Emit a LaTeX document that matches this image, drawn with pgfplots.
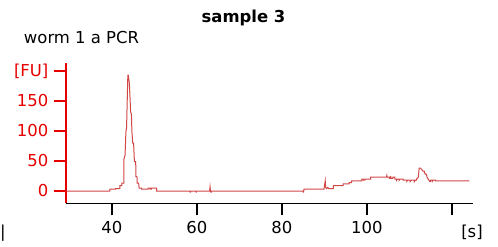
\documentclass[border=0pt]{standalone}
\usepackage{fontspec}
\setmainfont{DejaVu Sans}
\usepackage{pgfplots}
\pgfplotsset{compat=1.18}
\definecolor{axred}{RGB}{230,0,0}
\definecolor{trace}{RGB}{210,70,70}
\begin{document}
\fontsize{16.5}{19}\selectfont
\begin{tikzpicture}[x=1bp,y=1bp]
\useasboundingbox (0,0) rectangle (498,-246);
\begin{axis}[
  at={(66bp,-203.3bp)}, anchor=south west,
  scale only axis, width=406.7bp, height=140.3bp,
  xmin=29.2, xmax=124.9, ymin=-20.5, ymax=213.3,
  axis x line=bottom, axis y line=left, axis line style={-},
  x axis line style={black, line width=1.5bp},
  y axis line style={axred, line width=1.5bp},
  xtick={40,60,80,100,120}, xticklabels={40,60,80,100,{}},
  ytick={0,50,100,150,200}, yticklabels={0,50,100,150,{[FU]}},
  tick align=outside, major tick length=12bp,
  x tick style={black, line width=1.5bp},
  y tick style={axred, line width=1.5bp},
  yticklabel style={axred},
  tick label style={font=\fontsize{16.5}{19}\selectfont},
  /pgf/number format/assume math mode=true,
  clip=false,
]
\addplot[trace, line width=1bp] coordinates {
(29.3,0)(39.5,0)(39.5,3)(40.9,3)(40.9,4)(41.9,4)(41.9,9)(42.35,9)(42.35,13)(42.8,13)
(42.8,52)(43.1,60)(43.3,99)(43.45,105)(43.75,193)(43.85,193)(44.1,180)(44.3,150)
(44.4,132)(44.6,128)(44.7,100)(44.9,80)(45.1,80)(45.3,49)(45.6,49)(45.65,24)(45.9,24)
(45.96,13)(46.3,13)(46.4,5)(47.0,5)(47.0,3)(48.5,3)(48.5,5)(49.0,5)(49.0,3)(49.3,3)
(49.3,5)(50.5,5)(50.5,0)
(58.4,0)(58.4,-2)(58.5,-2)(58.5,0)(59.8,0)(59.8,-2)(59.9,-2)(59.9,0)(63.0,0)(63.1,7)
(63.2,0)(63.3,-2)(63.4,-2)(63.4,0)(85.0,0)(85.0,-2)(85.1,-2)(85.2,3)(89.9,3)(90.2,17)
(90.3,6)(90.5,4)(90.8,6)(91.0,4)(92.1,4)(92.1,9)(94.4,9)(94.4,12)(95.8,12)(95.8,14)
(96.4,14)(96.4,17)(98.8,17)(98.8,20)(99.2,20)(99.2,18)(99.5,18)(99.5,20)(100.9,20)
(100.9,23)(104.6,23)(104.7,26)(104.8,23)(105.3,23)(105.3,21)(105.6,21)(105.6,25)
(105.7,21)(106.1,21)(106.1,23)(106.6,23)(106.6,20)(107.0,20)(107.0,18)(107.2,20)
(107.6,20)(107.6,18)(107.8,20)(108.5,20)(108.5,18)(109.4,18)(109.4,16)(109.6,18)
(110.2,18)(110.2,16)(110.5,18)(111.2,18)(111.2,16)(111.4,18)(111.7,18)(111.7,20)
(112.1,23)(112.3,38)(112.6,38)(112.9,36)(113.2,33)(113.5,33)(113.7,28)(114.0,28)
(114.2,22)(114.4,20)(114.6,18)(114.8,16)(115.0,16)(115.0,18)(115.4,18)(115.4,16)
(115.6,18)(116.2,18)(116.2,16.7)(124.1,16.7)
};
\end{axis}
\node[anchor=base] at (243.5,-22.5) {\bfseries sample 3};
\node[anchor=base] at (81.5,-43) {worm 1 a PCR};
\node[anchor=base] at (472,-237) {[s]};
\node[anchor=base west, inner sep=0pt] at (0,-237) {|};
\end{tikzpicture}
\end{document}
